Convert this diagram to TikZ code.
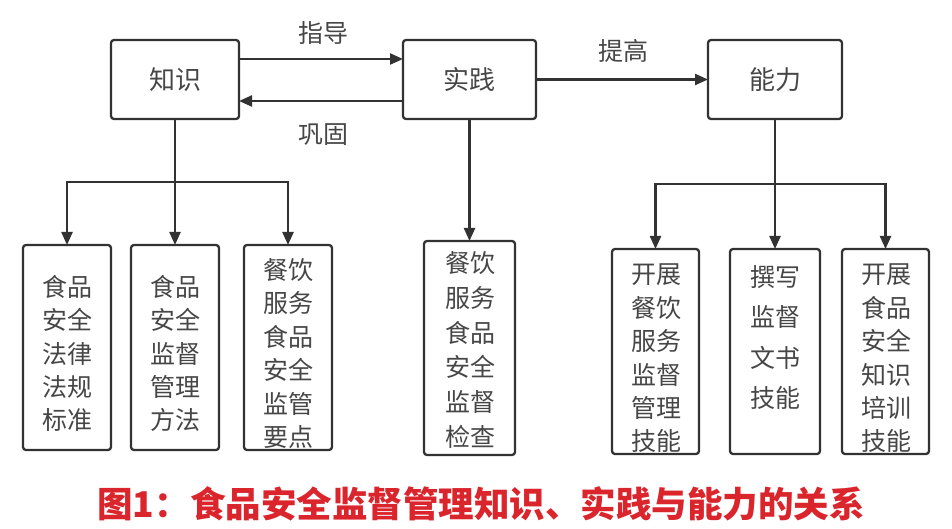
\documentclass[tikz,border=0pt]{standalone}
\usepackage{fontspec}
\newfontfamily\cjk{Noto Sans CJK SC}
\usetikzlibrary{arrows.meta}
\definecolor{lncol}{RGB}{50,50,50}
\definecolor{txcol}{RGB}{70,70,70}
\definecolor{capcol}{RGB}{218,37,45}
\tikzset{
  box/.style={draw=lncol, line width=2.3pt, rounded corners=3pt, inner sep=0pt, outer sep=0pt, anchor=north west},
  topbox/.style={box, minimum width=130pt, minimum height=79pt, text=txcol, font=\cjk\fontsize{26}{30}\selectfont},
  arr/.style={draw=lncol, line width=2.3pt, -{Triangle[length=13pt,width=11pt]}},
  wire/.style={draw=lncol, line width=2.3pt},
  body/.style={font=\cjk\fontsize{25}{33.4}\selectfont, text=txcol, align=center, inner sep=0pt},
  lbl/.style={font=\cjk\fontsize{25}{30}\selectfont, text=txcol, inner sep=0pt},
}
\begin{document}
\begin{tikzpicture}[x=1pt,y=-1pt]
\useasboundingbox (0,0) rectangle (952,529);
% top boxes
\node[topbox, minimum width=128pt] (zs) at (111,40) {知识};
\node[topbox, minimum width=133pt] (sj) at (403,40) {实践};
\node[topbox, minimum width=134pt] (nl) at (708,40) {能力};
% top arrows
\draw[arr] ([yshift=20.5pt]zs.east) -- ([yshift=20.5pt]sj.west);
\draw[arr] ([yshift=-21.5pt]sj.west) -- ([yshift=-21.5pt]zs.east);
\draw[arr] (sj.east) -- (nl.west);
\node[lbl] (zd) at (323,33) {指导};
\node[lbl] (gg) at (323,135) {巩固};
\node[lbl] (tg) at (623,51) {提高};
% bottom boxes
\node[box, minimum width=88pt, minimum height=205pt] (b1) at (23,245) {};
\node[box, minimum width=88pt, minimum height=205pt] (b2) at (131,245) {};
\node[box, minimum width=88pt, minimum height=205pt] (b3) at (244,245) {};
\node[box, minimum width=91pt, minimum height=214pt] (b4) at (424,241) {};
\node[box, minimum width=87pt, minimum height=205pt] (b5) at (612,249) {};
\node[box, minimum width=90pt, minimum height=205pt] (b6) at (730,249) {};
\node[box, minimum width=87pt, minimum height=205pt] (b7) at (842,249) {};
% texts
\node[body] (t1) at (67,353.5) {食品\\安全\\法律\\法规\\标准};
\node[body] (t2) at (175,353.5) {食品\\安全\\监督\\管理\\方法};
\node[body] (t3) at (288,353.5) {餐饮\\服务\\食品\\安全\\监管\\要点};
\node[body, font=\cjk\fontsize{25}{34.8}\selectfont] (t4) at (470,350) {餐饮\\服务\\食品\\安全\\监督\\检查};
\node[body] (t5) at (656,358.5) {开展\\餐饮\\服务\\监督\\管理\\技能};
\node[body, font=\cjk\fontsize{25}{40.4}\selectfont] (t6) at (775,337.5) {撰写\\监督\\文书\\技能};
\node[body] (t7) at (886,358.5) {开展\\食品\\安全\\知识\\培训\\技能};
% tree connectors
\coordinate (j1) at (zs.south |- 0,182);
\coordinate (j2) at (nl.south |- 0,184);
\draw[wire] (zs.south) -- (j1);
\draw[arr] (j1) -| (b1.north);
\draw[arr] (j1) -- (j1 |- b2.north);
\draw[arr] (j1) -| (b3.north);
\draw[arr] (sj.south) -- (sj.south |- b4.north);
\draw[wire] (nl.south) -- (j2);
\draw[arr] (j2) -| (b5.north);
\draw[arr] (j2) -- (j2 |- b6.north);
\draw[arr] (j2) -| (b7.north);
% caption
\node[font=\cjk\bfseries\fontsize{35.5}{40}\selectfont, text=capcol, inner sep=0pt] (cap) at (481,504) {图1：食品安全监督管理知识、实践与能力的关系};
\end{tikzpicture}
\end{document}
